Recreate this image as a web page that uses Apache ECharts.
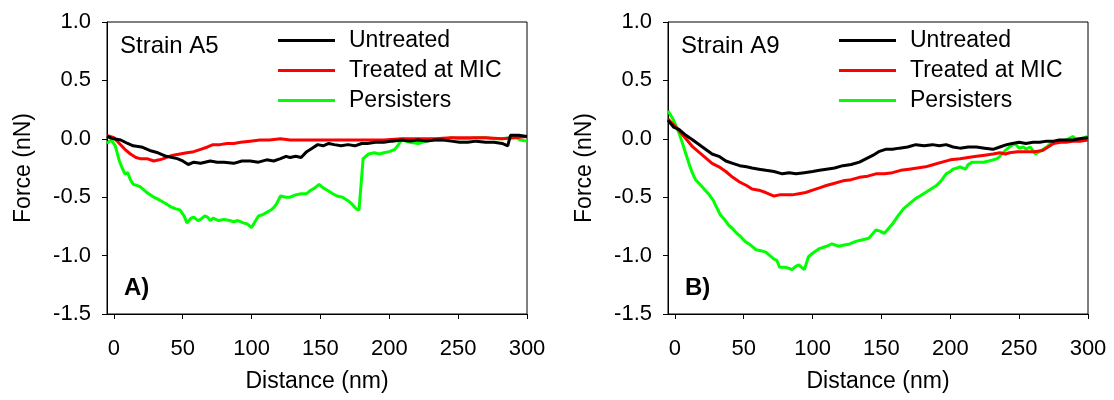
<!DOCTYPE html>
<html>
<head>
<meta charset="utf-8">
<script src="https://cdn.jsdelivr.net/npm/echarts@6/dist/echarts.min.js"></script>
<style>html,body{margin:0;padding:0;background:#fff}#c{width:1114px;height:400px}</style>
</head>
<body>
<div id="c"></div>
<script>
var seriesNames = ['Untreated', 'Treated at MIC', 'Persisters'];
var seriesColors = ['#000000', '#ff0000', '#00ff00'];
var xTicks = [0, 50, 100, 150, 200, 250, 300];
var panelTitles = ['Strain A5', 'Strain A9'];
var panelLetters = ['A)', 'B)'];

// Panel A (Strain A5): [distance nm, force nN]
var a5Untreated = [[-5,0.02],[0,0.0],[5,-0.01],[10,-0.04],[14,-0.06],[20,-0.07],[26,-0.10],[32,-0.12],[38,-0.15],[46,-0.17],[50,-0.19],[54,-0.22],[58,-0.20],[63,-0.21],[70,-0.19],[75,-0.20],[80,-0.20],[87,-0.21],[93,-0.19],[99,-0.19],[105,-0.20],[111,-0.18],[116,-0.19],[121,-0.17],[125,-0.15],[128,-0.16],[132,-0.15],[136,-0.16],[140,-0.11],[144,-0.08],[148,-0.05],[152,-0.06],[156,-0.04],[160,-0.05],[165,-0.06],[170,-0.05],[175,-0.06],[180,-0.04],[184,-0.04],[190,-0.03],[196,-0.03],[202,-0.02],[209,-0.01],[215,-0.02],[221,-0.01],[227,-0.02],[233,-0.01],[239,-0.01],[245,-0.02],[251,-0.03],[257,-0.03],[263,-0.02],[270,-0.03],[276,-0.03],[282,-0.04],[286,-0.06],[288,0.03],[294,0.03],[300,0.02]];
var a5Treated = [[-5,0.03],[0,0.01],[4,-0.04],[8,-0.09],[12,-0.13],[16,-0.16],[19,-0.17],[24,-0.17],[29,-0.19],[33,-0.18],[36,-0.17],[40,-0.15],[43,-0.14],[48,-0.13],[53,-0.12],[58,-0.11],[63,-0.09],[68,-0.07],[72,-0.05],[77,-0.05],[82,-0.04],[87,-0.04],[92,-0.03],[99,-0.02],[106,-0.01],[113,-0.01],[121,0.0],[128,-0.01],[136,-0.01],[148,-0.01],[160,-0.01],[172,-0.01],[184,-0.01],[196,-0.01],[209,0.0],[221,0.0],[233,0.0],[245,0.01],[257,0.01],[270,0.01],[282,0.0],[291,0.01],[300,0.02]];
var a5Persisters = [[-5,-0.04],[-2,-0.01],[1,-0.06],[4,-0.19],[6,-0.25],[8,-0.30],[10,-0.29],[12,-0.35],[14,-0.39],[17,-0.40],[19,-0.41],[22,-0.44],[24,-0.46],[29,-0.50],[34,-0.53],[37,-0.55],[41,-0.58],[45,-0.60],[48,-0.61],[51,-0.66],[53,-0.72],[56,-0.68],[58,-0.67],[61,-0.70],[63,-0.69],[66,-0.66],[68,-0.67],[70,-0.70],[72,-0.68],[76,-0.70],[80,-0.69],[84,-0.70],[87,-0.71],[90,-0.70],[94,-0.72],[97,-0.73],[100,-0.76],[103,-0.70],[105,-0.66],[108,-0.65],[111,-0.63],[114,-0.61],[116,-0.59],[118,-0.56],[121,-0.49],[125,-0.50],[128,-0.50],[132,-0.48],[136,-0.47],[140,-0.47],[143,-0.44],[146,-0.42],[149,-0.39],[152,-0.42],[155,-0.44],[159,-0.47],[162,-0.49],[166,-0.50],[170,-0.53],[173,-0.56],[176,-0.60],[178,-0.61],[181,-0.17],[185,-0.13],[189,-0.12],[193,-0.13],[196,-0.12],[200,-0.11],[204,-0.09],[206,-0.06],[209,-0.01],[215,-0.03],[221,-0.04],[227,-0.02],[233,-0.01],[239,-0.01],[245,0.01],[251,0.0],[257,0.0],[263,0.01],[270,0.01],[276,0.0],[282,0.0],[287,0.01],[291,0.02],[295,-0.01],[300,-0.02]];

// Panel B (Strain A9)
var a9Untreated = [[-5,0.16],[-1,0.10],[3,0.08],[8,0.03],[13,-0.01],[20,-0.07],[27,-0.13],[32,-0.15],[37,-0.19],[42,-0.21],[47,-0.23],[52,-0.24],[56,-0.25],[61,-0.26],[66,-0.27],[72,-0.28],[78,-0.30],[83,-0.29],[88,-0.30],[94,-0.29],[100,-0.28],[105,-0.27],[110,-0.26],[116,-0.25],[122,-0.23],[128,-0.22],[134,-0.20],[139,-0.17],[144,-0.14],[148,-0.11],[153,-0.09],[158,-0.09],[163,-0.08],[169,-0.07],[175,-0.05],[181,-0.06],[187,-0.05],[192,-0.06],[197,-0.05],[202,-0.07],[207,-0.08],[213,-0.07],[219,-0.07],[225,-0.08],[231,-0.09],[236,-0.07],[241,-0.05],[245,-0.04],[250,-0.03],[255,-0.04],[260,-0.03],[265,-0.03],[270,-0.02],[275,-0.02],[279,-0.01],[284,-0.01],[289,-0.01],[294,0.0],[300,0.01]];
var a9Treated = [[-5,0.17],[-1,0.12],[3,0.07],[8,0.0],[13,-0.07],[20,-0.14],[27,-0.21],[32,-0.24],[37,-0.28],[42,-0.33],[47,-0.37],[52,-0.40],[56,-0.43],[61,-0.44],[66,-0.46],[72,-0.49],[76,-0.48],[80,-0.48],[85,-0.48],[90,-0.47],[95,-0.46],[100,-0.44],[105,-0.42],[110,-0.40],[116,-0.38],[122,-0.36],[128,-0.35],[134,-0.33],[140,-0.32],[146,-0.30],[152,-0.30],[158,-0.29],[164,-0.27],[170,-0.26],[176,-0.25],[182,-0.24],[188,-0.22],[194,-0.20],[200,-0.18],[207,-0.17],[213,-0.16],[219,-0.15],[225,-0.14],[231,-0.13],[236,-0.12],[240,-0.13],[243,-0.12],[249,-0.11],[255,-0.11],[261,-0.11],[267,-0.10],[271,-0.07],[275,-0.04],[280,-0.03],[284,-0.03],[290,-0.02],[295,-0.02],[300,-0.01]];
var a9Persisters = [[-5,0.24],[-1,0.16],[3,0.05],[5,-0.02],[8,-0.13],[11,-0.24],[13,-0.30],[15,-0.35],[19,-0.40],[22,-0.44],[25,-0.48],[28,-0.53],[30,-0.58],[33,-0.65],[36,-0.69],[39,-0.74],[42,-0.77],[45,-0.81],[48,-0.84],[51,-0.88],[55,-0.91],[59,-0.95],[63,-0.96],[66,-0.97],[69,-1.00],[72,-1.03],[74,-1.04],[76,-1.10],[80,-1.10],[83,-1.11],[85,-1.12],[88,-1.09],[90,-1.08],[92,-1.10],[94,-1.12],[97,-1.01],[100,-0.98],[105,-0.94],[110,-0.92],[114,-0.90],[119,-0.92],[123,-0.91],[127,-0.90],[131,-0.88],[134,-0.87],[138,-0.86],[141,-0.85],[146,-0.78],[149,-0.79],[152,-0.81],[155,-0.77],[158,-0.73],[162,-0.66],[166,-0.60],[170,-0.56],[175,-0.51],[178,-0.49],[182,-0.46],[186,-0.43],[190,-0.40],[194,-0.35],[197,-0.30],[200,-0.28],[202,-0.26],[205,-0.25],[207,-0.24],[211,-0.26],[213,-0.22],[216,-0.20],[220,-0.20],[224,-0.20],[228,-0.19],[231,-0.18],[234,-0.17],[236,-0.15],[240,-0.10],[243,-0.07],[247,-0.04],[250,-0.08],[253,-0.07],[255,-0.09],[258,-0.07],[262,-0.13],[266,-0.10],[270,-0.07],[274,-0.03],[279,-0.02],[284,-0.01],[289,0.02],[291,0.0],[294,0.0],[297,0.01],[300,0.02]];

var panelData = [[a5Untreated, a5Treated, a5Persisters], [a9Untreated, a9Treated, a9Persisters]];

var FONT = '"Liberation Sans", Arial, Helvetica, sans-serif';
var gridLefts = [107, 668];
var chart = echarts.init(document.getElementById('c'), null, {renderer: 'canvas'});

var grids = [], xAxes = [], yAxes = [], series = [], legends = [], graphics = [];
for (var p = 0; p < 2; p++) {
  grids.push({left: gridLefts[p], top: 22, width: 420, height: 292, show: true, borderColor: '#000', borderWidth: 1, backgroundColor: 'transparent'});
  xAxes.push({
    type: 'value', gridIndex: p, min: -5, max: 300,
    name: 'Distance (nm)', nameLocation: 'middle', nameGap: 56,
    nameTextStyle: {fontFamily: FONT, fontSize: 23, color: '#000'},
    axisLine: {show: true, onZero: false, lineStyle: {color: '#000', width: 1}},
    axisTick: {show: true, inside: false, length: 5, customValues: xTicks, lineStyle: {color: '#000'}},
    axisLabel: {customValues: xTicks, margin: 24, fontFamily: FONT, fontSize: 22, color: '#000'},
    splitLine: {show: false}
  });
  yAxes.push({
    type: 'value', gridIndex: p, min: -1.5, max: 1.0, interval: 0.5,
    name: 'Force (nN)', nameLocation: 'middle', nameGap: 72,
    nameTextStyle: {fontFamily: FONT, fontSize: 23, color: '#000'},
    axisLine: {show: true, onZero: false, lineStyle: {color: '#000', width: 1}},
    axisTick: {show: true, inside: false, length: 5, lineStyle: {color: '#000'}},
    axisLabel: {margin: 16, fontFamily: FONT, fontSize: 22, color: '#000', formatter: function (v) { return v.toFixed(1); }},
    splitLine: {show: false}
  });
  for (var s = 0; s < 3; s++) {
    series.push({
      type: 'line', name: seriesNames[s], xAxisIndex: p, yAxisIndex: p,
      data: panelData[p][s], showSymbol: false, symbol: 'none', animation: false,
      color: seriesColors[s], z: 3 + (2 - s),
      lineStyle: {color: seriesColors[s], width: 3}
    });
  }
  legends.push({
    left: gridLefts[p] + 166, top: 24, orient: 'vertical', icon: 'rect',
    itemWidth: 57, itemHeight: 3, itemGap: 7, selectedMode: false,
    data: seriesNames,
    textStyle: {fontFamily: FONT, fontSize: 23, color: '#000', padding: [0, 0, 0, 9]}
  });
  graphics.push({type: 'text', left: gridLefts[p] + 13, top: 34, style: {text: panelTitles[p], font: '24px ' + FONT, fill: '#000'}});
  graphics.push({type: 'text', left: gridLefts[p] + 17, top: 276, style: {text: panelLetters[p], font: 'bold 24px ' + FONT, fill: '#000'}});
}

chart.setOption({
  animation: false,
  backgroundColor: '#ffffff',
  grid: grids, xAxis: xAxes, yAxis: yAxes, series: series, legend: legends, graphic: graphics
});
</script>
</body>
</html>
